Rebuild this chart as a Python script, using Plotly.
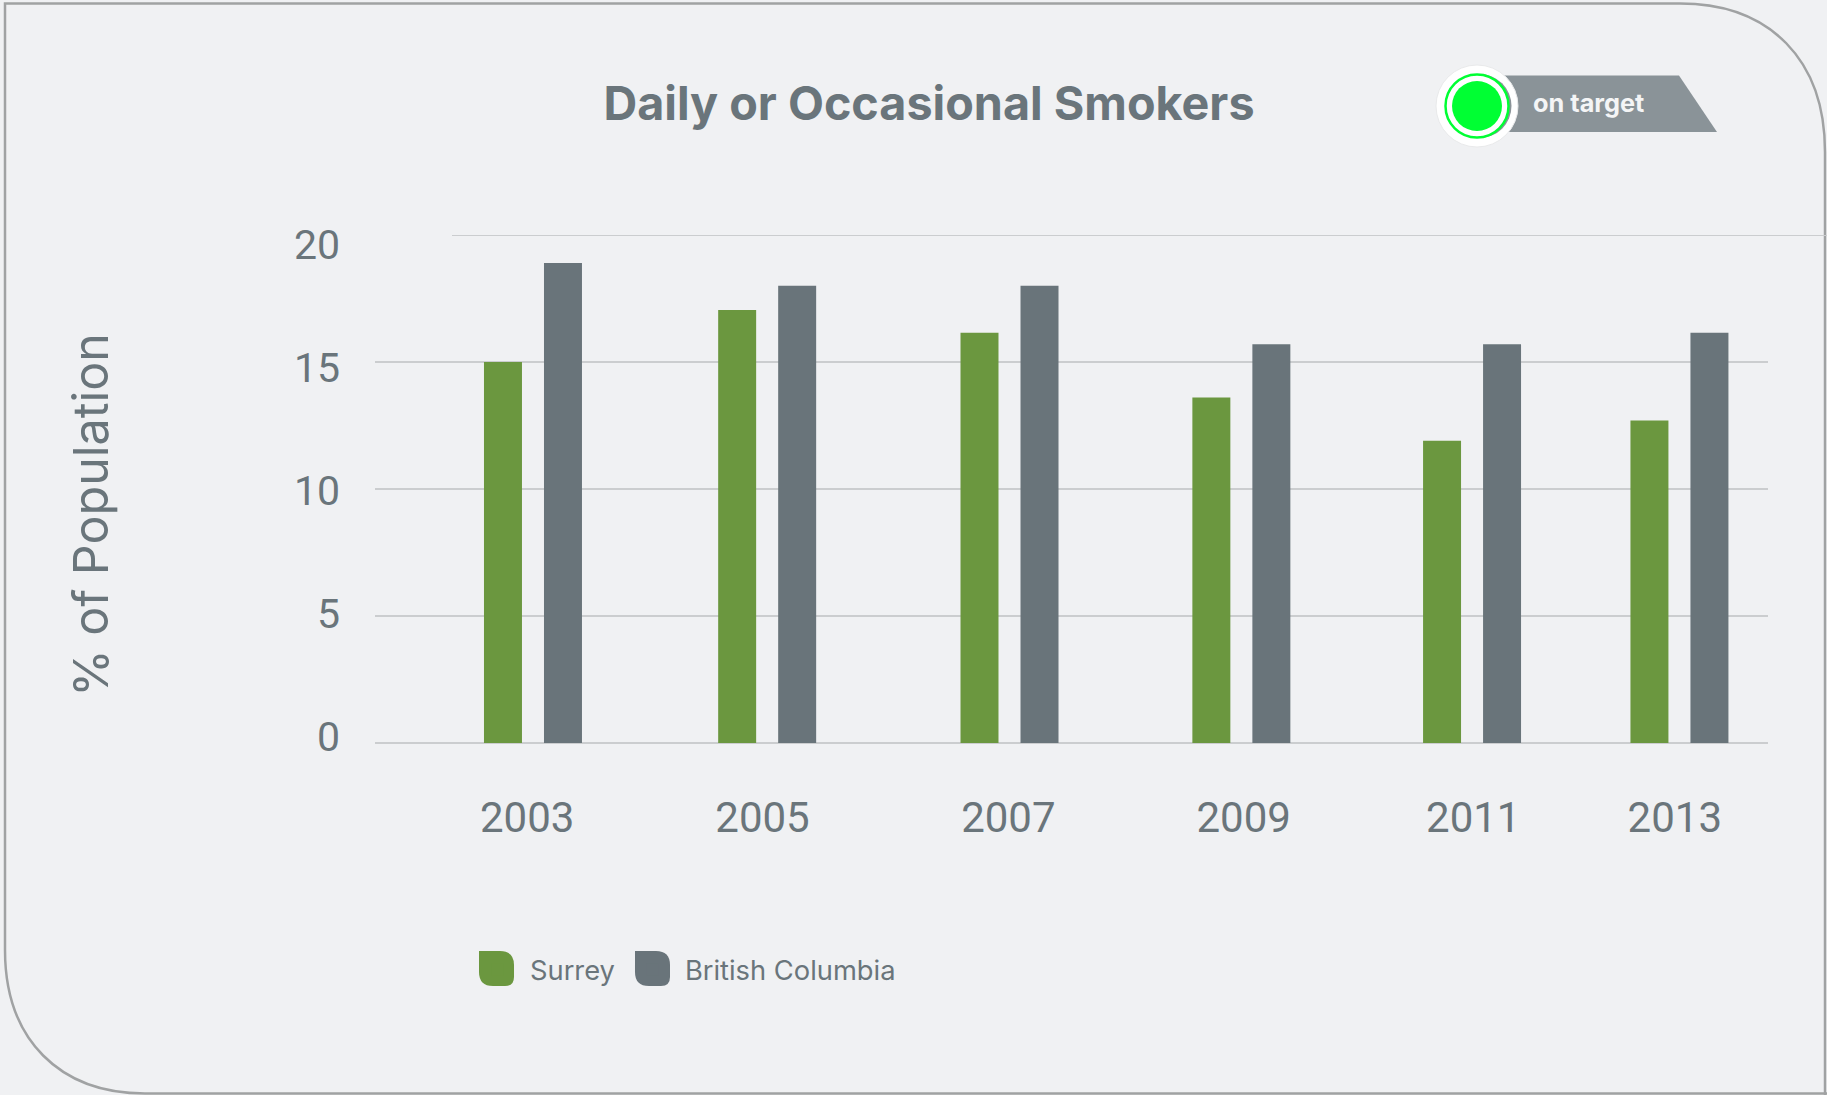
import plotly.graph_objects as go

W, H = 1827, 1095

years = ["2003", "2005", "2007", "2009", "2011", "2013"]
surrey = [15.0, 17.05, 16.15, 13.6, 11.9, 12.7]
british_columbia = [18.9, 18.0, 18.0, 15.7, 15.7, 16.15]
y_ticks = [0, 5, 10, 15, 20]
# the source axis is unevenly spaced: where each group and each label sits along it
group_slots = [2003.0, 2005.01, 2007.09, 2009.08, 2011.06, 2012.84]
label_slots = [2002.95, 2004.97, 2007.08, 2009.10, 2011.07, 2012.80]

GREEN = "#6b973f"
SLATE = "#69747a"
TEXT = "#6a757b"
BG = "#f0f1f3"
GRID = "#cbcdcf"
FRAME = "#a0a2a3"
FONT = "Roboto, sans-serif"
FONT2 = "Inter, sans-serif"


def px(x):
    return x / W


def py(y):
    return 1 - y / H


def path(*parts):
    out = []
    for p in parts:
        if isinstance(p, str):
            out.append(p)
        else:
            out.append(f"{px(p[0]):.5f},{py(p[1]):.5f}")
    return " ".join(out)


def leaf(x0, y0, x1, y1, r=14, r2=9):
    return path("M", (x0, y0), "L", (x1 - r, y0), "Q", (x1, y0), (x1, y0 + r),
                "L", (x1, y1 - r2), "Q", (x1, y1), (x1 - r2, y1),
                "L", (x0 + r, y1), "Q", (x0, y1), (x0, y1 - r), "Z")


def circle(cx, cy, r, **kw):
    return dict(type="circle", xref="paper", yref="paper", x0=px(cx - r), x1=px(cx + r),
                y0=py(cy + r), y1=py(cy - r), **kw)


fig = go.Figure()
fig.add_trace(go.Bar(x=group_slots, y=surrey, name="Surrey", marker_color=GREEN,
                     marker_line_width=0, width=0.326, offset=-0.4206, hoverinfo="x+y"))
fig.add_trace(go.Bar(x=group_slots, y=british_columbia, name="British Columbia", marker_color=SLATE,
                     marker_line_width=0, width=0.326, offset=0.0944, hoverinfo="x+y"))
# carries the label axis, which sits slightly off the gridlines as in the source
fig.add_trace(go.Scatter(x=[group_slots[0]], y=[0], yaxis="y2", mode="markers",
                         marker=dict(opacity=0), showlegend=False, hoverinfo="skip"))

shapes = [
    # outer frame
    dict(type="path", xref="paper", yref="paper", layer="below",
         line=dict(color=FRAME, width=2.5),
         path=path("M", (1680, 3.5), "L", (5, 3.5), "L", (5, 950),
                   "C", (5, 1040), (60, 1093.5), (145, 1093.5), "L", (1827, 1093.5))),
    dict(type="path", xref="paper", yref="paper", layer="below",
         line=dict(color=FRAME, width=2.5),
         path=path("M", (1680, 3.5), "C", (1770, 3.5), (1825, 60), (1825, 152), "L", (1825, 1095))),
    # top gridline, which runs past the others
    dict(type="line", xref="paper", yref="y", x0=px(452), x1=1, y0=20, y1=20,
         layer="below", line=dict(color=GRID, width=2)),
    # badge
    dict(type="path", xref="paper", yref="paper", layer="above", line=dict(width=0),
         fillcolor="#8a9398",
         path=path("M", (1490, 75.5), "L", (1679, 75.5), "L", (1717, 132), "L", (1490, 132), "Z")),
    circle(1477, 106, 41, fillcolor="#ffffff", line=dict(color="#e9eaeb", width=1), layer="above"),
    circle(1479.5, 106, 32, fillcolor="#8a9398", line=dict(width=0), layer="above"),
    circle(1477, 106, 31.5, fillcolor="#ffffff", line=dict(color="#00ff33", width=2.5), layer="above"),
    circle(1477, 106, 25, fillcolor="#00ff33", line=dict(width=0), layer="above"),
    # legend swatches
    dict(type="path", xref="paper", yref="paper", layer="above", line=dict(width=0),
         fillcolor=GREEN, path=leaf(479, 951, 514, 986)),
    dict(type="path", xref="paper", yref="paper", layer="above", line=dict(width=0),
         fillcolor=SLATE, path=leaf(635, 951, 670, 986)),
]

fig.update_layout(
    width=W, height=H, autosize=False,
    margin=dict(l=0, r=0, t=0, b=0),
    paper_bgcolor=BG, plot_bgcolor="rgba(0,0,0,0)",
    font=dict(family=FONT, color=TEXT),
    barmode="overlay",
    title=dict(text="<b>Daily or Occasional Smokers</b>", x=px(929), y=py(104),
               xanchor="center", yanchor="middle", xref="paper", yref="paper",
               font=dict(size=46.7, color=TEXT, family=FONT2)),
    xaxis=dict(domain=[px(375), px(1768)], range=[2001.644, 2013.6], type="linear",
               tickmode="array", tickvals=label_slots, ticktext=years,
               showgrid=False, zeroline=False, showline=False, ticks="",
               ticklabelstandoff=46, tickfont=dict(size=42, color=TEXT), automargin=False),
    yaxis=dict(domain=[py(743), py(235)], range=[0, 20], tickmode="array",
               tickvals=[0, 5, 10, 15], showticklabels=False, showgrid=True, gridcolor=GRID,
               gridwidth=2, zeroline=True, zerolinecolor=GRID, zerolinewidth=2, ticks="",
               showline=False, automargin=False),
    yaxis2=dict(anchor="free", position=px(340), side="left",
                domain=[py(795), py(235)], range=[-2.358, 20.41],
                tickmode="array", tickvals=y_ticks, showgrid=False, zeroline=False,
                showline=False, ticks="", tickfont=dict(size=41, color=TEXT), automargin=False,
                title=dict(text="% of Population", font=dict(size=48.4, color=TEXT, family=FONT2), standoff=168)),
    legend=dict(orientation="h", x=px(465), y=py(970), xanchor="left", yanchor="middle",
                xref="paper", yref="paper", bgcolor="rgba(0,0,0,0)", borderwidth=0,
                font=dict(size=27.3, color=TEXT, family=FONT2), itemwidth=55, traceorder="normal",
                itemclick=False, itemdoubleclick=False),
    shapes=shapes,
    annotations=[dict(text="<b>on target</b>", xref="paper", yref="paper", x=px(1531), y=py(102),
                      xanchor="left", yanchor="middle", showarrow=False,
                      font=dict(size=25.3, color="#f4f5f6", family=FONT2))],
    showlegend=True,
)

fig.write_html("out.html", post_script="document.body.style.margin='0';document.body.style.overflow='hidden';document.body.style.background='%s';" % BG,
               config=dict(displayModeBar=False))
